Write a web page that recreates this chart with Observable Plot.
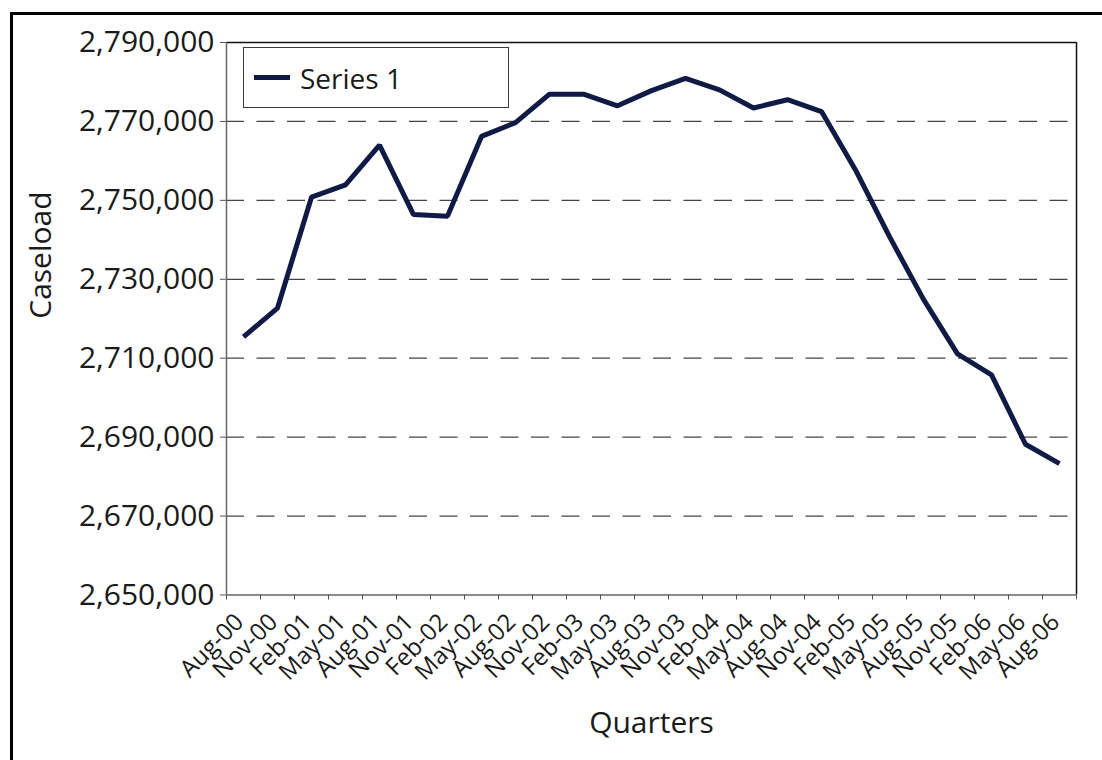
<!DOCTYPE html>
<html>
<head>
<meta charset="utf-8">
<script src="https://cdn.jsdelivr.net/npm/d3@7"></script>
<script src="https://cdn.jsdelivr.net/npm/@observablehq/plot@0.6"></script>
<style>
  html, body { margin: 0; padding: 0; background: #fff; overflow: hidden; }
  #wrap { position: relative; width: 1102px; height: 760px; overflow: hidden; font-family: "Open Sans", "Noto Sans", sans-serif; color: #1a1a1a; }
  #outer { position: absolute; left: 10px; top: 12px; width: 2000px; height: 2000px; border-top: 3px solid #000; border-left: 3px solid #000; pointer-events: none; }
  #chart { position: absolute; left: 0; top: 0; }
  #legend { position: absolute; left: 243px; top: 47px; width: 264px; height: 59px; border: 1px solid #3a3a3a; background: #fff; display: flex; align-items: center; box-sizing: content-box; }
  #legend .swatch { width: 36px; height: 5px; background: #0f1a45; margin-left: 10px; margin-right: 10px; }
  #legend .lab { font-size: 28px; line-height: 1; color: #1a1a1a; }
</style>
</head>
<body>
<div id="wrap">
  <div id="chart"></div>
  <div id="legend"><div class="swatch"></div><div class="lab">Series 1</div></div>
  <div id="outer"></div>
</div>
<script>
const quarters = ["Aug-00","Nov-00","Feb-01","May-01","Aug-01","Nov-01","Feb-02","May-02","Aug-02","Nov-02","Feb-03","May-03","Aug-03","Nov-03","Feb-04","May-04","Aug-04","Nov-04","Feb-05","May-05","Aug-05","Nov-05","Feb-06","May-06","Aug-06"];
const caseload = [2715400, 2722700, 2750800, 2753900, 2764000, 2746400, 2746000, 2766200, 2769700, 2776900, 2776900, 2773950, 2777800, 2780900, 2778000, 2773400, 2775500, 2772500, 2757700, 2740800, 2724900, 2711100, 2705800, 2688200, 2683300];
const yTicks = [2650000, 2670000, 2690000, 2710000, 2730000, 2750000, 2770000, 2790000];
const gridValues = [2670000, 2690000, 2710000, 2730000, 2750000, 2770000];
const seriesName = "Series 1";
const xTitle = "Quarters";
const yTitle = "Caseload";

const boundaries = d3.range(quarters.length + 1).map(i => i - 0.5);
const xDomain = [-0.5, quarters.length - 0.5];
const yDomain = [yTicks[0], yTicks[yTicks.length - 1]];
const data = caseload.map((v, i) => ({i, v, q: quarters[i]}));

const chart = Plot.plot({
  width: 1102,
  height: 760,
  marginLeft: 226,
  marginRight: 26,
  marginTop: 42,
  marginBottom: 165.5,
  style: {fontFamily: "'Open Sans', 'Noto Sans', sans-serif", color: "#1a1a1a", background: "transparent"},
  x: {type: "linear", domain: xDomain},
  y: {type: "linear", domain: yDomain},
  marks: [
    Plot.ruleY(gridValues, {stroke: "#444", strokeWidth: 1.3, strokeDasharray: "18,12.5"}),
    Plot.ruleY([yDomain[1]], {stroke: "#111", strokeWidth: 1.3}),
    Plot.ruleX([xDomain[1]], {stroke: "#111", strokeWidth: 1.5}),
    Plot.ruleX([xDomain[0]], {stroke: "#666", strokeWidth: 1.5}),
    Plot.ruleY([yDomain[0]], {stroke: "#666", strokeWidth: 1.6}),
    Plot.axisY({ticks: yTicks, tickFormat: d3.format(","), tickSize: 6, tickPadding: 6, fontSize: 30, stroke: "#555", fill: "#1a1a1a", label: null}),
    Plot.axisX({ticks: boundaries, tickFormat: () => "", tickSize: 5, stroke: "#555", label: null}),
    Plot.text(data, {x: "i", frameAnchor: "bottom", text: "q", rotate: -45, textAnchor: "end", lineAnchor: "middle", dy: 23, dx: -4, fontSize: 24, fill: "#1a1a1a"}),
    Plot.text([xTitle], {frameAnchor: "bottom", text: d => d, lineAnchor: "top", dy: 117, fontSize: 30, fill: "#1a1a1a"}),
    Plot.text([yTitle], {frameAnchor: "left", text: d => d, rotate: -90, lineAnchor: "middle", dx: -185, fontSize: 30, fill: "#1a1a1a"}),
    Plot.lineY(data, {x: "i", y: "v", stroke: "#0f1a45", strokeWidth: 5, strokeLinejoin: "miter", strokeLinecap: "butt"})
  ]
});
document.getElementById("chart").appendChild(chart);
</script>
</body>
</html>
